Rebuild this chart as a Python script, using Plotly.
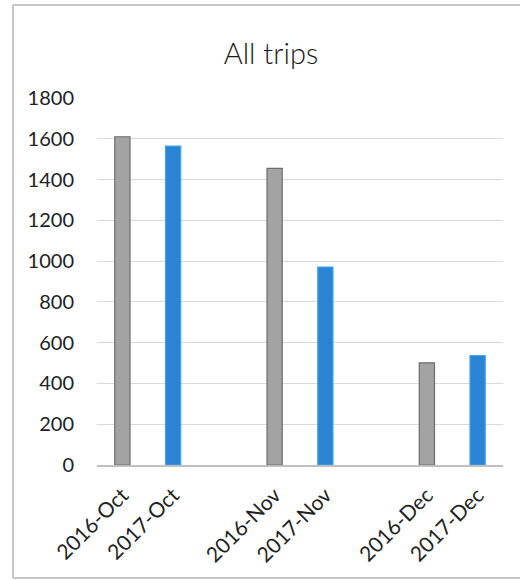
import plotly.graph_objects as go

# Data (blank slots separate the month pairs)
categories = ["2016-Oct", "2017-Oct", " ", "2016-Nov", "2017-Nov", "  ", "2016-Dec", "2017-Dec"]
trips = [1610, 1564, None, 1455, 971, None, 501, 537]
years = ["2016", "2017", None, "2016", "2017", None, "2016", "2017"]
y_ticks = [0, 200, 400, 600, 800, 1000, 1200, 1400, 1600, 1800]

fill = {"2016": "#a3a3a3", "2017": "#2b83d3", None: "rgba(0,0,0,0)"}
edge = {"2016": "#6e6e6e", "2017": "#41a4ee", None: "rgba(0,0,0,0)"}

fig = go.Figure(
    go.Bar(
        x=categories,
        y=trips,
        marker=dict(color=[fill[y] for y in years],
                    line=dict(color=[edge[y] for y in years], width=1.2)),
        width=0.3,
        hoverinfo="skip",
    )
)

def px_x(v):
    return (v - 97) / 406

def px_y(v):
    return (465 - v) / 367

border = dict(color="#b5b5b5", width=1.5)
fig.update_layout(
    width=522, height=580,
    margin=dict(l=97, r=19, t=98, b=115),
    paper_bgcolor="white", plot_bgcolor="white",
    showlegend=False,
    font=dict(family="Lato, Carlito, sans-serif", color="#222222", size=20),
    title=dict(text="All trips", x=271 / 522, xanchor="center",
               y=1 - 64 / 580, yanchor="bottom",
               font=dict(family="Lato, sans-serif", size=29, color="#1a1a1a", weight=300)),
    xaxis=dict(
        type="category", categoryorder="array", categoryarray=categories,
        tickmode="array", tickvals=categories,
        ticktext=[c if c.strip() else "" for c in categories],
        tickangle=-45, showgrid=False, ticks="", showline=True,
        linecolor="#c0c0c0", linewidth=1.5, zeroline=False,
        ticklabelstandoff=8,
        tickfont=dict(size=21, color="#222222"), range=[-0.5, 7.5],
    ),
    yaxis=dict(
        range=[0, 1800], tickvals=y_ticks, showgrid=True,
        gridcolor="#dadada", gridwidth=1, zeroline=False, showline=False,
        ticks="", ticklabelstandoff=22,
        tickfont=dict(size=20, color="#222222"),
    ),
    shapes=[
        dict(type="line", xref="paper", yref="paper",
             x0=px_x(13), x1=px_x(520), y0=px_y(5), y1=px_y(5), line=border),
        dict(type="line", xref="paper", yref="paper",
             x0=px_x(13), x1=px_x(13), y0=px_y(5), y1=px_y(578), line=border),
        dict(type="line", xref="paper", yref="paper",
             x0=px_x(13), x1=px_x(520), y0=px_y(578), y1=px_y(578), line=border),
    ],
)

fig.write_html("out.html", config={"displayModeBar": False})
